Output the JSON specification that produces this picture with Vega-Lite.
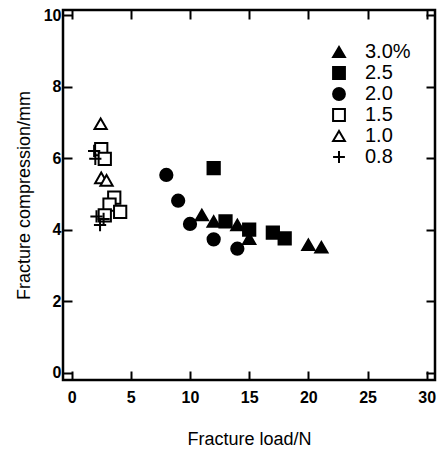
{
  "$schema": "https://vega.github.io/schema/vega-lite/v6.json",
  "width": 372,
  "height": 370,
  "autosize": {"type": "none"},
  "padding": {"left": 63, "top": 10, "right": 8, "bottom": 72},
  "background": "white",
  "config": {
    "view": {"stroke": "black", "strokeWidth": 2.5},
    "font": "Liberation Sans",
    "axis": {"grid": false, "domain": false, "tickColor": "black", "tickWidth": 2, "labelColor": "black", "titleColor": "black"},
    "legend": {"title": null, "orient": "none", "legendX": 266, "legendY": 32, "labelFontSize": 20, "labelColor": "black", "symbolSize": 140, "symbolStrokeWidth": 2, "rowPadding": 1, "labelOffset": 16}
  },
  "data": {"values": [
    {"series": "3.0%", "load": 11.0, "comp": 4.41},
    {"series": "3.0%", "load": 12.0, "comp": 4.23},
    {"series": "3.0%", "load": 14.0, "comp": 4.13},
    {"series": "3.0%", "load": 15.0, "comp": 3.75},
    {"series": "3.0%", "load": 20.0, "comp": 3.58},
    {"series": "3.0%", "load": 21.1, "comp": 3.51},
    {"series": "2.5", "load": 12.0, "comp": 5.72},
    {"series": "2.5", "load": 13.0, "comp": 4.23},
    {"series": "2.5", "load": 15.0, "comp": 4.0},
    {"series": "2.5", "load": 17.0, "comp": 3.92},
    {"series": "2.5", "load": 18.0, "comp": 3.76},
    {"series": "2.0", "load": 8.0, "comp": 5.53},
    {"series": "2.0", "load": 9.0, "comp": 4.81},
    {"series": "2.0", "load": 10.0, "comp": 4.16},
    {"series": "2.0", "load": 12.0, "comp": 3.73},
    {"series": "2.0", "load": 14.0, "comp": 3.47},
    {"series": "1.5", "load": 2.5, "comp": 6.25},
    {"series": "1.5", "load": 2.8, "comp": 5.98},
    {"series": "1.5", "load": 3.6, "comp": 4.9},
    {"series": "1.5", "load": 3.2, "comp": 4.7},
    {"series": "1.5", "load": 4.1, "comp": 4.5},
    {"series": "1.5", "load": 2.8, "comp": 4.4},
    {"series": "1.0", "load": 2.45, "comp": 6.96},
    {"series": "1.0", "load": 2.5, "comp": 5.45},
    {"series": "1.0", "load": 2.95, "comp": 5.38},
    {"series": "0.8", "load": 1.9, "comp": 6.2},
    {"series": "0.8", "load": 2.0, "comp": 5.98},
    {"series": "0.8", "load": 2.1, "comp": 4.37},
    {"series": "0.8", "load": 2.4, "comp": 4.13},
    {"series": "0.8", "load": 2.7, "comp": 4.3}
  ]},
  "layer": [
    {
      "mark": {"type": "point", "size": 150, "strokeWidth": 2, "opacity": 1},
      "encoding": {
        "x": {"field": "load", "type": "quantitative",
          "scale": {"domain": [-0.73, 30.7], "nice": false, "zero": false},
          "axis": {"values": [0, 5, 10, 15, 20, 25, 30], "tickSize": -9, "labelPadding": 18, "labelFontSize": 16, "labelFontWeight": "bold", "title": "Fracture load/N", "titleFontSize": 18, "titleFontWeight": "normal", "titlePadding": 25}},
        "y": {"field": "comp", "type": "quantitative",
          "scale": {"domain": [-0.2, 10.14], "nice": false, "zero": false},
          "axis": {"values": [0, 2, 4, 6, 8, 10], "tickSize": -9, "labelPadding": 11, "labelFontSize": 16, "labelFontWeight": "bold", "title": "Fracture compression/mm", "titleFontSize": 18, "titleFontWeight": "normal", "titlePadding": 10}},
        "shape": {"field": "series", "type": "nominal",
          "scale": {"domain": ["3.0%", "2.5", "2.0", "1.5", "1.0", "0.8"],
            "range": ["triangle-up", "square", "circle", "square", "triangle-up", "M-1,0H1M0,-1V1"]}},
        "fill": {"field": "series", "type": "nominal",
          "scale": {"domain": ["3.0%", "2.5", "2.0", "1.5", "1.0", "0.8"],
            "range": ["black", "black", "black", "white", "white", "transparent"]}},
        "stroke": {"field": "series", "type": "nominal",
          "scale": {"domain": ["3.0%", "2.5", "2.0", "1.5", "1.0", "0.8"],
            "range": ["black", "black", "black", "black", "black", "black"]}}
      }
    },
    {
      "mark": {"type": "point", "opacity": 0},
      "encoding": {
        "x": {"field": "load", "type": "quantitative",
          "scale": {"domain": [-0.73, 30.7], "nice": false, "zero": false},
          "axis": {"orient": "top", "values": [0, 5, 10, 15, 20, 25, 30], "tickSize": -9, "labels": false, "title": null}},
        "y": {"field": "comp", "type": "quantitative",
          "scale": {"domain": [-0.2, 10.14], "nice": false, "zero": false},
          "axis": {"orient": "right", "values": [0, 2, 4, 6, 8, 10], "tickSize": -9, "labels": false, "title": null}}
      }
    }
  ],
  "resolve": {"axis": {"x": "independent", "y": "independent"}}
}
